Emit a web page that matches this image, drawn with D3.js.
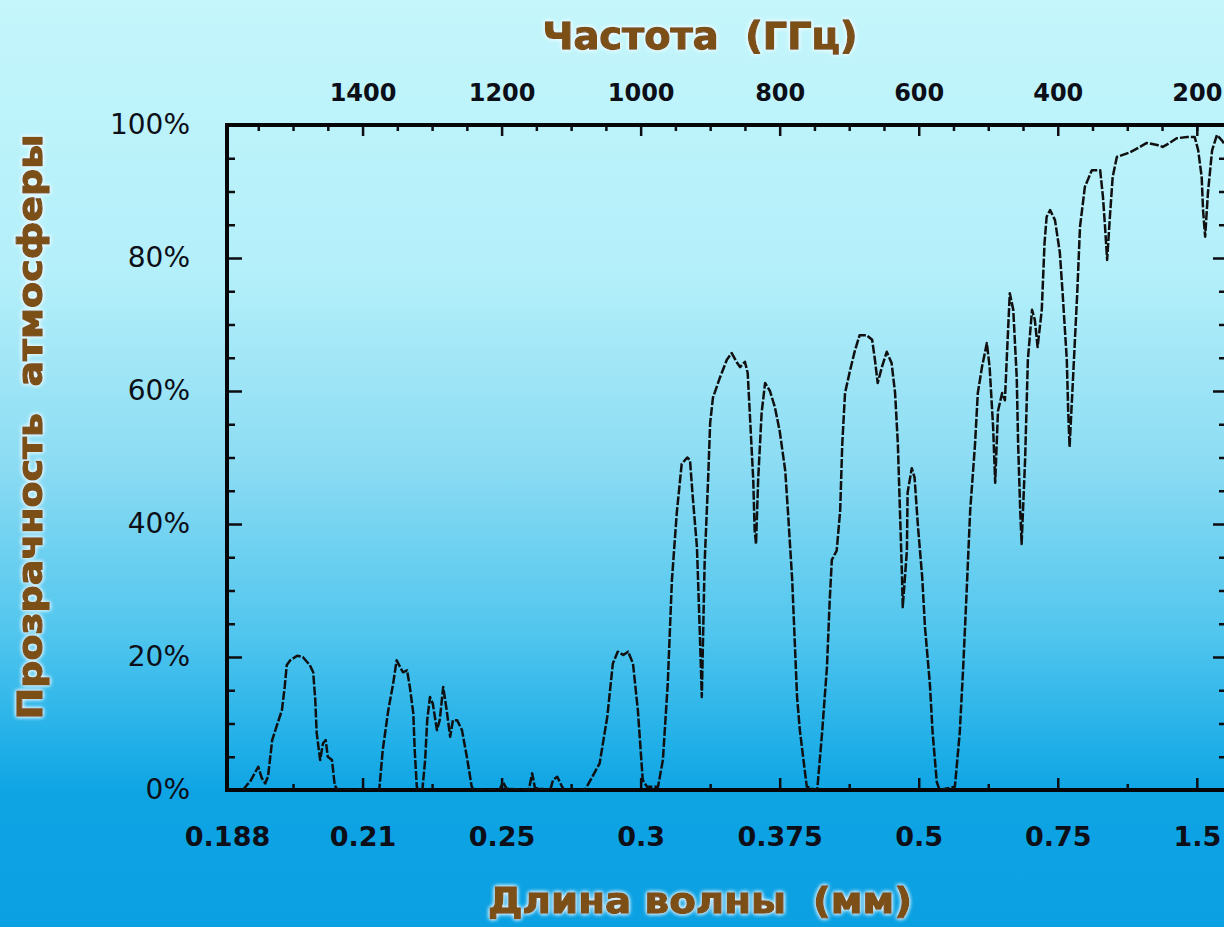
<!DOCTYPE html>
<html><head><meta charset="utf-8">
<script src="https://cdn.jsdelivr.net/npm/d3@7"></script>
<style>html,body{margin:0;padding:0;overflow:hidden;background:#0aa0e2} text.title{white-space:pre}</style>
</head><body>
<svg id="chart" width="1224" height="927"></svg>
<script>
// ---- data (frequency in GHz, atmospheric transmission in %) ----
const freqGHz = [1572,1566,1562,1550,1545,1540,1536,1530,1523,1516,1512,1509,1504,1494,1486,1476,1471,1468,1466,1461,1457,1453,1450,1444,1440,1436,
 1376,1371,1363,1356,1351,1346,1342,1336,1332,1327,1325,1322,1320,
 1314,1310,1307,1303,1299,1293,1289,1284,1279,1274,1270,1264,1257,1250,1243,1240,
 1203,1198,1193,1161,1156,1152,1130,1126,1120,1113,1110,
 1080,1059,1048,1040,1033,1025,1018,1011,1004,997,991,
 975,968,961,955,948,941,933,929,925,919,915,912,908,903,900,896,886,876,869,861,857,850,846,843,838,836,834,831,826,821,814,807,800,792,788,782,778,775,771,764,761,749,
 746,739,732,728,725,718,713,710,706,699,692,685,675,667,663,659,653,646,639,634,630,627,624,623,617,616,610,606,601,595,591,584,580,574,570,
 548,541,536,531,526,519,515,509,502,498,493,490,486,480,476,473,469,464,459,457,454,452,447,443,437,433,429,423,419,416,411,404,397,393,387,385,383,378,372,368,361,351,344,339,335,332,329,325,321,315,296,282,272,257,249,239,229,214,203,198,193,191,188,184,178,171,164,156];
const transmission = [0,0.8,1.2,3.5,1.8,1.0,2.0,7.5,9.8,12,15.5,18.8,19.5,20.2,20,18.8,17.7,13.5,8.6,4.5,7,7.5,5,4.5,0.7,0,
 0,6,12,16,19.5,18.5,17.7,18,15.5,11.5,6,0.5,0,
 0,4.5,10.5,14,13,9,10.5,15.5,12,8,10.5,10.5,9,5,0.5,0,
 0,1.2,0.2,0,2.5,0.3,0,1.5,2,0.5,0,
 0,4,11,19,20.8,20.3,20.8,19,12,1.5,0.5,
 0.5,4.5,16,31.6,41.7,49,50,49.6,44,36.5,24,14,34,46.6,55.2,59,62,64.7,65.7,64.2,63.6,64.4,62.7,56.7,46.6,39,37,46.6,56.7,61.2,60,57.6,54,48,41.7,31.6,21.5,14,9,3,0.5,0,
 0,8.6,18.5,28.6,34.6,36,42,52,59.7,63,66,68.4,68.4,67.7,64.7,61.2,63.6,65.9,64.2,59.7,52,42,32,27.5,36,44.7,48.4,47,39.5,32,24.5,16,8.6,1.2,0,
 0.5,8.6,18.5,30,42,52,59.7,63.6,67.2,63.6,54.6,46.2,57,59.7,58.6,65.7,74.7,72.2,62,52,42,37,49.6,64.7,72.2,70.7,66.6,72.2,82.3,86.2,87.2,85.7,80.8,74.7,64.7,57,51.6,62,74.7,84.7,90.7,93.2,93.2,93.2,89.2,84.7,79.7,86.2,92.2,95.2,95.9,96.7,97.3,97,96.7,97.3,98,98.2,98.2,96.2,92.2,87.2,83.2,89.8,96.2,98.5,97.7,96.5];

const frequencyTicks = [1400,1200,1000,800,600,400,200];
const frequencyMinorTicks = [1550,1500,1450,1350,1300,1250,1150,1100,1050,950,900,850,750,700,650,550,500,450,350,300,250,200,150];
const wavelengthTickFreq = [1595,1400,1200,1000,800,600,400,200];
const wavelengthLabels = ["0.188","0.21","0.25","0.3","0.375","0.5","0.75","1.5"];
const wavelengthMinorTicks = [1500,1300,1100,900,700,500,300];
const percentTicks = [0,20,40,60,80,100];
const percentMinorTicks = [5,10,15,25,30,35,45,50,55,65,70,75,85,90,95];
const titleFrequency = "Частота  (ГГц)";
const titleWavelength = "Длина волны  (мм)";
const titleTransparency = "Прозрачность  атмосферы";

// ---- layout ----
const W = 1224, H = 927;
const PL = 227, PR = 1226, PT = 125, PB = 790;

const svg = d3.select("#chart");
const defs = svg.append("defs");
const grad = defs.append("linearGradient").attr("id","bg")
  .attr("x1",0).attr("y1",0).attr("x2",0).attr("y2",1);
[[0,"#c4f6fb"],[0.3,"#b3effa"],[0.5,"#8cdcf3"],[0.68,"#52c6ee"],[0.8,"#22b0e8"],[0.855,"#0ea4e4"],[1,"#0aa0e2"]]
  .forEach(([o,c]) => grad.append("stop").attr("offset",o).attr("stop-color",c));
defs.append("clipPath").attr("id","plotclip").append("rect")
  .attr("x",PL).attr("y",PT-2).attr("width",PR-PL).attr("height",PB-PT+2);
const glow = defs.append("filter").attr("id","glow").attr("x","-10%").attr("y","-30%").attr("width","120%").attr("height","160%");
glow.append("feGaussianBlur").attr("in","SourceAlpha").attr("stdDeviation",2.2).attr("result","b");
glow.append("feFlood").attr("flood-color","#f4fcff").attr("flood-opacity",0.95);
glow.append("feComposite").attr("in2","b").attr("operator","in").attr("result","g");
const fm = glow.append("feMerge");
fm.append("feMergeNode").attr("in","g");
fm.append("feMergeNode").attr("in","g");
fm.append("feMergeNode").attr("in","SourceGraphic");

svg.append("rect").attr("width",W).attr("height",H).attr("fill","url(#bg)");

const x = d3.scaleLinear().domain([1595,158]).range([PL,PR]);
const y = d3.scaleLinear().domain([0,100]).range([PB,PT]);

function styleAxis(g, fontSize, weight){
  g.select(".domain").remove();
  g.selectAll("line").attr("stroke","#0d0d12").attr("stroke-width",2.5);
  g.selectAll("text").attr("font-family","DejaVu Sans, Verdana, sans-serif")
    .attr("font-weight",weight).attr("font-size",fontSize).attr("fill","#0c0e18");
}

// top frequency axis
styleAxis(svg.append("g").attr("transform",`translate(0,${PT})`)
  .call(d3.axisTop(x).tickValues(frequencyTicks).tickFormat(d3.format("d")).tickSizeInner(-11).tickSizeOuter(0).tickPadding(24)), 24, "bold");
styleAxis(svg.append("g").attr("transform",`translate(0,${PT})`)
  .call(d3.axisTop(x).tickValues(frequencyMinorTicks).tickSizeInner(-6).tickSizeOuter(0).tickFormat("")), 24, "bold");

// bottom wavelength axis
styleAxis(svg.append("g").attr("transform",`translate(0,${PB})`)
  .call(d3.axisBottom(x).tickValues(wavelengthTickFreq).tickFormat((d,i)=>wavelengthLabels[i])
    .tickSizeInner(-12).tickSizeOuter(0).tickPadding(37)), 27, "bold");
styleAxis(svg.append("g").attr("transform",`translate(0,${PB})`)
  .call(d3.axisBottom(x).tickValues(wavelengthMinorTicks).tickSizeInner(-6).tickSizeOuter(0).tickFormat("")), 27, "bold");

// left percent axis
styleAxis(svg.append("g").attr("transform",`translate(${PL},0)`)
  .call(d3.axisLeft(y).tickValues(percentTicks).tickFormat(d=>d+"%").tickSizeInner(-15).tickSizeOuter(0).tickPadding(37)), 28, "normal");
styleAxis(svg.append("g").attr("transform",`translate(${PL},0)`)
  .call(d3.axisLeft(y).tickValues(percentMinorTicks).tickSizeInner(-8).tickSizeOuter(0).tickFormat("")), 28, "normal");

// right axis (ticks only)
styleAxis(svg.append("g").attr("transform",`translate(${PR},0)`)
  .call(d3.axisRight(y).tickValues(percentTicks).tickSizeInner(-13).tickSizeOuter(0).tickFormat("")), 28, "normal");
styleAxis(svg.append("g").attr("transform",`translate(${PR},0)`)
  .call(d3.axisRight(y).tickValues(percentMinorTicks).tickSizeInner(-7).tickSizeOuter(0).tickFormat("")), 28, "normal");

// frame
svg.append("rect").attr("x",PL).attr("y",PT).attr("width",PR-PL).attr("height",PB-PT)
  .attr("fill","none").attr("stroke","#050508").attr("stroke-width",4);

// transmission curve
const pts = freqGHz.map((f,i)=>({f, t: transmission[i]}));
svg.append("path").datum(pts)
  .attr("clip-path","url(#plotclip)")
  .attr("fill","none").attr("stroke","#101010").attr("stroke-width",2.5)
  .attr("stroke-linejoin","round").attr("stroke-dasharray","9,2")
  .attr("d", d3.line().x(d=>x(d.f)).y(d=>y(d.t)));

// titles
function title(txt, tx, ty, len, size, rot){
  const t = svg.append("text").attr("class","title").attr("xml:space","preserve").text(txt)
    .attr("x",tx).attr("y",ty).attr("text-anchor","middle")
    .attr("font-family","DejaVu Sans, Verdana, sans-serif").attr("font-weight","bold")
    .attr("font-size",size).attr("fill","#7c5013")
    .attr("stroke","#7c5013").attr("stroke-width",1.3).attr("stroke-linejoin","round")
    .attr("textLength",len).attr("lengthAdjust","spacingAndGlyphs")
    .attr("filter","url(#glow)");
  if (rot) t.attr("transform",`rotate(${rot},${tx},${ty})`);
}
title(titleFrequency, 700, 49, 315, 37, 0);
title(titleWavelength, 700, 913, 424, 36, 0);
title(titleTransparency, 42, 427, 585, 34, -90);
</script>
</body></html>
